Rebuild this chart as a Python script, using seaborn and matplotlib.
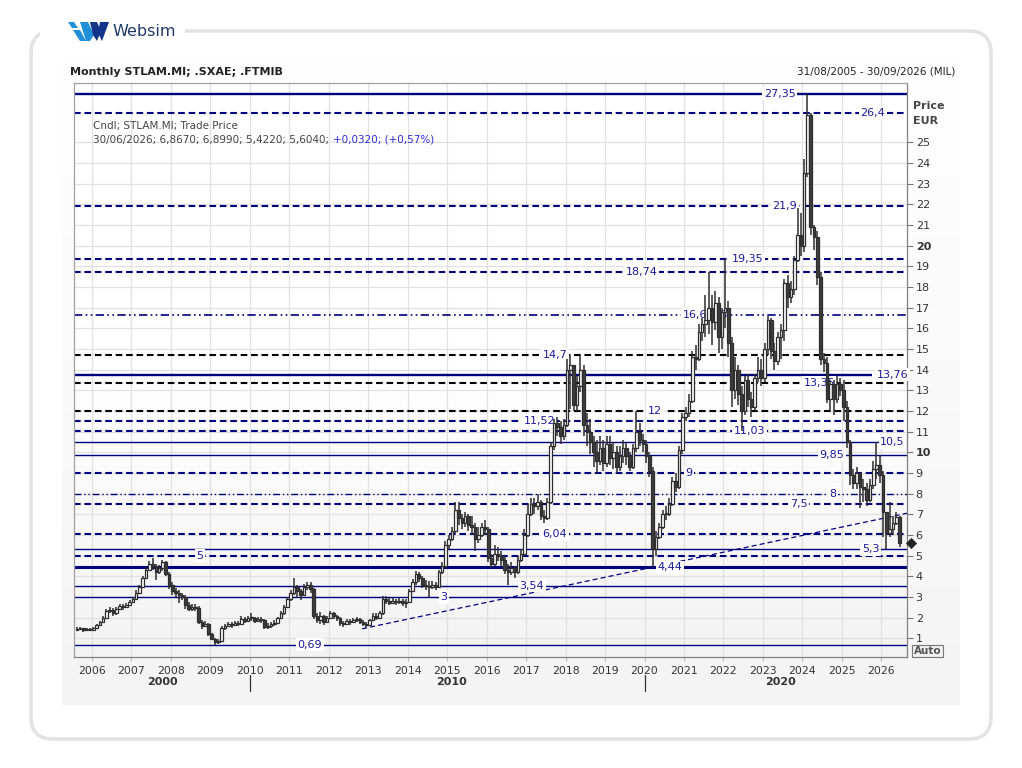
import numpy as np
import pandas as pd
import matplotlib
matplotlib.use("Agg")
import matplotlib.pyplot as plt
import matplotlib.transforms as mtransforms
from matplotlib.patches import FancyBboxPatch, Polygon, Rectangle
from matplotlib.colors import LinearSegmentedColormap
import seaborn as sns

# ---------------- data (monthly candles, Aug 2005 .. Jun 2026) ----------------
start_period = "2005-08"
first_open = 1.40
closes = [
    1.45, 1.50, 1.40, 1.45, 1.42,
    1.50, 1.65, 1.80, 2.00, 2.30, 2.35, 2.20, 2.40, 2.55, 2.50, 2.60, 2.75,
    2.90, 3.20, 3.50, 3.90, 4.30, 4.60, 4.50, 4.20, 4.40, 4.70, 4.10, 3.60,
    3.30, 3.20, 3.10, 3.00, 2.60, 2.40, 2.50, 2.45, 1.80, 1.60, 1.70, 1.20,
    0.95, 0.80, 0.85, 1.50, 1.60, 1.70, 1.65, 1.75, 1.70, 1.95, 1.85, 2.00,
    2.00, 1.85, 1.95, 1.90, 1.55, 1.60, 1.70, 1.75, 2.00, 2.20, 2.50, 2.90,
    3.20, 3.50, 3.30, 3.10, 3.50, 3.60, 3.40, 2.10, 1.90, 2.10, 1.80, 2.00,
    2.20, 2.10, 2.00, 1.75, 1.70, 1.85, 1.80, 1.90, 1.95, 1.80, 1.70, 1.65,
    1.90, 2.10, 2.00, 2.20, 2.90, 2.80, 2.70, 2.80, 2.75, 2.80, 2.70, 2.75,
    3.30, 3.70, 4.10, 3.90, 3.60, 3.55, 3.50, 3.60, 3.50, 4.20, 4.50, 5.50,
    5.80, 6.20, 7.20, 6.80, 6.60, 6.90, 6.50, 6.40, 5.80, 6.00, 6.40, 6.30,
    4.90, 4.60, 5.10, 5.00, 4.80, 4.30, 4.20, 4.40, 4.20, 4.80, 5.10, 6.00,
    7.00, 7.50, 7.40, 7.60, 6.90, 6.80, 7.60, 10.30, 11.40, 11.20, 10.80, 11.30,
    14.00, 14.20, 12.30, 13.20, 14.00, 11.30, 11.00, 10.50, 10.00, 9.60, 10.20, 9.50,
    10.40, 9.70, 10.00, 9.30, 9.80, 10.20, 9.80, 9.30, 10.20, 11.00, 10.60, 10.40,
    9.80, 9.10, 5.30, 5.90, 6.40, 7.00, 7.00, 7.50, 8.60, 8.30, 10.10, 11.70,
    11.90, 12.50, 14.60, 14.50, 15.80, 16.20, 16.40, 17.00, 16.30, 17.20, 15.60, 16.80,
    17.00, 15.30, 13.00, 14.00, 12.80, 12.00, 13.50, 12.60, 12.20, 13.60, 14.00, 13.60,
    15.00, 16.40, 14.90, 14.40, 15.60, 15.90, 18.20, 17.50, 17.90, 19.30, 20.50, 20.00,
    23.50, 26.30, 20.90, 20.40, 18.50, 14.50, 14.30, 12.60, 13.30, 12.60, 13.30, 13.00,
    12.20, 10.50, 8.90, 8.50, 9.00, 8.30, 8.20, 7.70, 8.40, 9.20, 9.40, 8.90,
    7.10, 6.10, 6.30, 6.60, 6.867, 5.604,
]
highs = [
    1.55, 1.55, 1.52, 1.50, 1.50,
    1.55, 1.70, 1.85, 2.10, 2.40, 2.50, 2.45, 2.50, 2.65, 2.65, 2.70, 2.85,
    3.00, 3.35, 3.60, 4.00, 4.40, 4.75, 4.90, 4.60, 4.55, 4.80, 4.75, 4.20,
    3.70, 3.45, 3.35, 3.20, 3.10, 2.75, 2.65, 2.65, 2.55, 1.90, 1.85, 1.75,
    1.25, 1.00, 0.95, 1.60, 1.70, 1.80, 1.80, 1.85, 1.85, 2.10, 2.05, 2.10,
    2.20, 2.05, 2.05, 2.05, 1.95, 1.75, 1.80, 1.90, 2.05, 2.30, 2.60, 3.00,
    3.35, 3.90, 3.60, 3.40, 3.65, 3.70, 3.70, 3.45, 2.20, 2.25, 2.15, 2.10,
    2.30, 2.25, 2.15, 2.05, 1.85, 1.95, 1.95, 2.00, 2.05, 2.00, 1.90, 1.80,
    1.95, 2.20, 2.20, 2.30, 3.05, 3.05, 2.95, 2.95, 2.90, 2.95, 2.90, 2.90,
    3.40, 3.85, 4.25, 4.20, 4.00, 3.80, 3.75, 3.75, 3.70, 4.30, 4.70, 5.70,
    6.00, 6.40, 7.60, 7.60, 7.00, 7.10, 7.00, 6.90, 6.60, 6.40, 6.60, 6.70,
    6.40, 5.10, 5.50, 5.40, 5.20, 5.00, 4.60, 4.70, 4.50, 5.00, 5.30, 6.30,
    7.50, 7.80, 7.80, 8.00, 7.70, 7.20, 7.80, 10.50, 11.60, 11.70, 11.50, 11.60,
    14.50, 14.70, 14.20, 13.70, 14.70, 14.20, 11.90, 11.60, 10.80, 10.60, 10.80, 10.60,
    10.80, 10.80, 10.50, 10.30, 10.30, 10.60, 10.50, 10.00, 10.40, 12.00, 11.40, 10.90,
    10.60, 10.00, 9.30, 6.20, 6.60, 7.20, 7.40, 7.80, 8.80, 9.00, 10.30, 11.90,
    12.20, 12.80, 14.90, 15.20, 16.20, 16.50, 17.60, 18.74, 17.60, 17.80, 17.50, 17.00,
    19.35, 17.30, 15.60, 14.60, 14.20, 13.20, 13.70, 13.80, 12.90, 13.80, 14.60, 14.50,
    15.30, 16.60, 16.50, 15.30, 15.80, 16.20, 18.40, 18.60, 18.30, 19.50, 21.80, 21.60,
    24.20, 27.35, 26.40, 21.00, 20.70, 18.70, 14.80, 14.60, 13.50, 13.50, 13.76, 13.60,
    13.50, 12.50, 10.60, 9.20, 9.30, 9.00, 8.70, 8.50, 8.70, 9.60, 10.50, 9.85,
    9.10, 7.00, 7.60, 6.90, 7.10, 6.899,
]
lows = [
    1.35, 1.38, 1.30, 1.35, 1.35,
    1.38, 1.45, 1.62, 1.78, 1.95, 2.20, 2.10, 2.15, 2.35, 2.35, 2.45, 2.55,
    2.70, 2.85, 3.15, 3.45, 3.85, 4.25, 4.30, 3.80, 4.10, 4.25, 4.00, 3.40,
    3.10, 3.00, 2.70, 2.85, 2.40, 2.30, 2.30, 2.30, 1.70, 1.45, 1.55, 1.10,
    0.90, 0.69, 0.72, 0.85, 1.40, 1.55, 1.50, 1.60, 1.60, 1.65, 1.75, 1.80,
    1.85, 1.75, 1.80, 1.75, 1.45, 1.45, 1.50, 1.60, 1.70, 1.95, 2.15, 2.45,
    2.80, 3.10, 3.00, 2.85, 3.05, 3.35, 3.20, 1.95, 1.75, 1.70, 1.65, 1.75,
    1.95, 1.95, 1.85, 1.60, 1.55, 1.65, 1.65, 1.75, 1.80, 1.70, 1.60, 1.52,
    1.60, 1.85, 1.90, 1.95, 2.15, 2.65, 2.60, 2.65, 2.60, 2.65, 2.55, 2.45,
    2.75, 3.25, 3.60, 3.70, 3.45, 3.35, 3.00, 3.40, 3.35, 3.45, 4.10, 4.40,
    5.30, 5.70, 6.10, 6.50, 6.30, 6.40, 6.20, 6.00, 5.20, 5.60, 5.90, 6.00,
    4.70, 4.40, 4.50, 4.75, 4.50, 4.10, 3.60, 4.05, 3.90, 4.10, 4.70, 5.00,
    5.90, 6.90, 7.00, 7.20, 6.70, 6.60, 6.70, 7.50, 10.10, 10.80, 10.40, 10.60,
    11.20, 12.10, 12.00, 12.00, 12.90, 10.80, 10.30, 9.90, 9.30, 9.00, 9.40, 9.10,
    9.30, 9.40, 9.20, 9.00, 9.10, 9.50, 9.40, 9.10, 9.20, 10.00, 10.30, 10.00,
    9.50, 8.80, 4.44, 5.00, 5.80, 6.30, 6.70, 6.90, 7.40, 8.10, 8.20, 9.90,
    11.50, 11.70, 12.40, 14.00, 14.40, 15.40, 15.60, 15.70, 15.20, 15.90, 14.80, 15.00,
    16.00, 14.60, 12.20, 12.60, 12.30, 11.03, 11.80, 12.20, 11.70, 12.00, 13.40, 13.20,
    13.40, 14.70, 14.50, 14.00, 14.20, 14.50, 15.40, 17.00, 17.20, 17.60, 19.20, 19.50,
    19.70, 23.30, 20.50, 19.80, 18.10, 14.20, 13.90, 12.40, 12.00, 11.80, 12.40, 12.70,
    11.50, 10.20, 8.40, 8.20, 8.20, 7.30, 7.60, 7.40, 7.60, 8.20, 8.70, 8.50,
    5.90, 5.30, 5.90, 6.00, 6.50, 5.422,
]

# drawn horizontal levels and their labels
level_values = [27.35, 26.4, 21.9, 19.35, 18.74, 16.6585, 14.7, 13.76, 13.35, 12,
                11.52, 11.03, 10.5, 9.85, 9, 8, 7.5, 6.04, 5.3, 5, 4.44, 3.54, 3, 0.69]
level_labels = ["27,35", "26,4", "21,9", "19,35", "18,74", "16,6585", "14,7", "13,76",
                "13,35", "12", "11,52", "11,03", "10,5", "9,85", "9", "8", "7,5",
                "6,04", "5,3", "5", "4,44", "3,54", "3", "0,69"]
# trendline anchors
trend_x = [2012.85, 2026.65]
trend_y = [1.46, 7.05]

year_ticks = list(range(2006, 2027))
decade_labels = ["2000", "2010", "2020"]
price_ticks = list(range(1, 26))

# ---------------- styles / positions ----------------
NAVY = "#00007f"
LBL = "#1a1a9e"
level_style = {
    27.35: ("solid", 1.7, NAVY), 26.4: ("dash", 1.5, NAVY), 21.9: ("dash", 1.5, NAVY),
    19.35: ("dash", 1.5, NAVY), 18.74: ("dash", 1.5, NAVY), 16.6585: ("dadd", 1.2, NAVY),
    14.7: ("dash", 1.5, "black"), 13.76: ("solid", 1.7, NAVY), 13.35: ("dash", 1.5, "black"),
    12: ("dash", 1.5, "black"), 11.52: ("dash", 1.5, NAVY), 11.03: ("dash", 1.5, NAVY),
    10.5: ("solid", 1.0, NAVY), 9.85: ("solid", 1.0, NAVY), 9: ("dash", 1.5, NAVY),
    8: ("dadd", 1.0, NAVY), 7.5: ("dash", 1.5, NAVY), 6.04: ("dash", 1.5, NAVY),
    5.3: ("solid", 1.0, NAVY), 5: ("dash", 1.5, NAVY), 4.44: ("solid", 2.2, NAVY),
    3.54: ("solid", 1.0, NAVY), 3: ("solid", 1.0, NAVY), 0.69: ("solid", 1.0, NAVY),
}
label_xpos = [2023.43, 2025.78, 2023.55, 2022.6, 2019.92, 2021.55, 2017.73, 2026.28,
              2024.43, 2020.26, 2017.35, 2022.66, 2026.28, 2024.74, 2021.13, 2024.77,
              2023.9, 2017.73, 2025.73, 2008.74, 2020.64, 2017.15, 2014.92, 2011.53]
line_xmax = {13.76: 2025.75, 10.5: 2025.95}
dash_map = {"solid": "-", "dash": (0, (3.2, 1.8)), "dadd": (0, (5, 2, 1, 2, 1, 2))}

W, H = 1022, 768
XMIN, XMAX = 2005.56, 2026.655
YMIN, YMAX = 0.08, 27.88

sns.set_theme(style="white")
plt.rcParams["font.family"] = ["DejaVu Sans"]

fig = plt.figure(figsize=(W / 100, H / 100), dpi=100, facecolor="white")

def fx(px):
    return px / W

def fy(py):
    return 1 - py / H

# outer card
bg = fig.add_axes([0, 0, 1, 1], zorder=-5)
bg.set_xlim(0, W); bg.set_ylim(H, 0); bg.axis("off")
bg.add_patch(FancyBboxPatch((31, 31), 960, 708, boxstyle="round,pad=0,rounding_size=22",
                            fc="white", ec="#e3e3e3", lw=2.6))
grad = np.linspace(0, 1, 256).reshape(-1, 1)
panel_cmap = LinearSegmentedColormap.from_list("p", ["#ffffff", "#f4f4f4"])
bg.imshow(grad, extent=[62, 960, 705, 60], aspect="auto", cmap=panel_cmap, zorder=1)
# logo area
bg.add_patch(Rectangle((40, 14), 145, 34, fc="white", ec="none", zorder=2))
bg.add_patch(Polygon([[68, 22], [74, 22], [78, 28], [72, 28]], closed=True, fc="#1f8fd8", ec="none", zorder=3))
bg.add_patch(Polygon([[73, 30], [80, 30], [86, 41], [80, 41]], closed=True, fc="#1f8fd8", ec="none", zorder=3))
bg.add_patch(Polygon([[80, 22], [88, 22], [94, 35], [90, 41], [86, 41]], closed=True, fc="#1f8fd8", ec="none", zorder=3))
bg.add_patch(Polygon([[90, 22], [97, 22], [101, 31], [97, 41], [93, 35]], closed=True, fc="#12358a", ec="none", zorder=3))
bg.add_patch(Polygon([[100, 22], [109, 22], [102, 41], [98, 33]], closed=True, fc="#12358a", ec="none", zorder=3))
bg.text(112, 32, "Websim", fontsize=11.5, color="#1f3a68", va="center", ha="left", zorder=3)

# main axes
ax = fig.add_axes([fx(74.3), fy(657.3), fx(907.3 - 74.3), (657.3 - 82.7) / H])
plot_cmap = LinearSegmentedColormap.from_list("a", ["#f3f3f3", "#ffffff", "#ffffff"])
ax.imshow(grad, extent=[XMIN, XMAX, YMIN, YMAX], origin="lower", aspect="auto",
          cmap=plot_cmap, zorder=0)
ax.set_xlim(XMIN, XMAX)
ax.set_ylim(YMIN, YMAX)

for yv in price_ticks:
    ax.axhline(yv, color="#e1e1e1", lw=0.9, zorder=1)
for xv in year_ticks:
    ax.axvline(xv, color="#e1e1e1", lw=0.9, zorder=1)

# candles
df = pd.DataFrame({"close": closes, "high": highs, "low": lows})
df["open"] = [first_open] + closes[:-1]
per = pd.period_range(start_period, periods=len(df), freq="M")
df["t"] = per.year + (per.month - 0.5) / 12.0
up = df["close"] >= df["open"]
body_lo = np.minimum(df["open"], df["close"])
body_h = np.maximum(np.abs(df["close"] - df["open"]), 0.04)

# levels
for val, lab, lx in zip(level_values, level_labels, label_xpos):
    ls, lw, col = level_style[val]
    xmax = line_xmax.get(val, XMAX)
    ax.plot([XMIN, xmax], [val, val], color=col, lw=lw, linestyle=dash_map[ls], zorder=2,
            solid_capstyle="butt", dash_capstyle="butt")
    ax.text(lx, val, lab, color=LBL, fontsize=8, ha="center", va="center", zorder=3,
            bbox=dict(boxstyle="square,pad=0.15", fc="white", ec="none"))

# trendline
ax.plot(trend_x, trend_y, color=NAVY, lw=0.9, linestyle=(0, (4, 2.5)), zorder=2)

ax.vlines(df["t"], df["low"], df["high"], color="#2e2e2e", lw=1.1, zorder=4)
bw = 0.066
ax.bar(df["t"][up], body_h[up], bottom=body_lo[up], width=bw, facecolor="white",
       edgecolor="#2e2e2e", linewidth=0.9, zorder=5)
ax.bar(df["t"][~up], body_h[~up], bottom=body_lo[~up], width=bw, facecolor="#3d3d3d",
       edgecolor="#2e2e2e", linewidth=0.9, zorder=5)

# last price marker
sns.scatterplot(x=[2026.76], y=[closes[-1]], marker="D", s=28, color="#222222",
                edgecolor="#222222", ax=ax, zorder=6, legend=False)
ax.collections[-1].set_clip_on(False)

# axes formatting
ax.yaxis.tick_right()
ax.set_yticks(price_ticks)
ax.set_yticklabels([str(v) for v in price_ticks])
for t, v in zip(ax.get_yticklabels(), price_ticks):
    if v in (10, 20):
        t.set_fontweight("bold")
ax.set_xticks(year_ticks)
ax.set_xticklabels([str(v) for v in year_ticks])
ax.tick_params(axis="y", which="both", right=True, left=False, length=4, width=0.8,
               color="#777777", labelsize=8, labelcolor="#333333", pad=2, direction="out")
ax.tick_params(axis="x", bottom=True, length=3, width=0.8, color="#bbbbbb",
               labelsize=7.8, labelcolor="#333333", pad=3)
for side, sp in ax.spines.items():
    sp.set_visible(True)
    sp.set_linewidth(0.9)
    sp.set_color("#a0a0a0" if side in ("top", "left") else "#808080")
ax.grid(False)
ax.set_xlabel("")
ax.set_ylabel("")

blend = mtransforms.blended_transform_factory(ax.transData, ax.transAxes)
for lab, xpos in zip(decade_labels, [2007.8, 2015.1, 2023.45]):
    ax.text(xpos, -0.043, lab, transform=blend, fontsize=8, fontweight="bold",
            color="#333333", ha="center", va="center")
for xpos in [2010.0, 2020.0]:
    ax.plot([xpos, xpos], [-0.030, -0.058], transform=blend, color="#333333", lw=0.9,
            clip_on=False)

# header texts
fig.text(fx(70), fy(72), "Monthly STLAM.MI; .SXAE; .FTMIB", fontsize=8, fontweight="bold",
         color="#222222", ha="left", va="center")
fig.text(fx(955), fy(72), "31/08/2005 - 30/09/2026 (MIL)", fontsize=7.5, color="#222222",
         ha="right", va="center")
fig.text(fx(93), fy(126), "Cndl; STLAM.MI; Trade Price", fontsize=7.5, color="#444444",
         ha="left", va="center")
t_info = fig.text(fx(93), fy(140), "30/06/2026; 6,8670; 6,8990; 5,4220; 5,6040;",
                  fontsize=7.5, color="#444444", ha="left", va="center")
fig.canvas.draw()
bb = t_info.get_window_extent(renderer=fig.canvas.get_renderer())
fig.text((bb.x1 + 4) / W, fy(140), "+0,0320; (+0,57%)", fontsize=7.5, color="#2a2ae0",
         ha="left", va="center")
fig.text(fx(913), fy(106), "Price", fontsize=8, fontweight="bold", color="#444444",
         ha="left", va="center")
fig.text(fx(913), fy(121), "EUR", fontsize=8, fontweight="bold", color="#444444",
         ha="left", va="center")
fig.text(fx(927.5), fy(651), "Auto", fontsize=7.5, fontweight="bold", color="#555555",
         ha="center", va="center",
         bbox=dict(boxstyle="square,pad=0.12", fc="#f0f0f0", ec="#777777", lw=0.8))

fig.savefig("out.png", dpi=100, facecolor="white")
